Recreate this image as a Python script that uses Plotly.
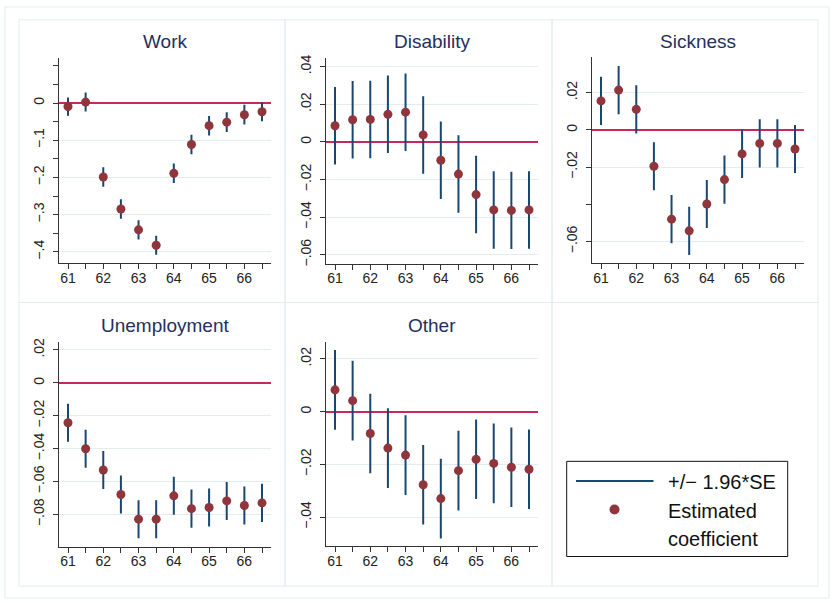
import plotly.graph_objects as go

W, H = 833, 603

# ---- data: coefficients by age (half-year steps) ----
ages = [61, 61.5, 62, 62.5, 63, 63.5, 64, 64.5, 65, 65.5, 66, 66.5]

coef_work = [-0.0095, 0.0025, -0.199, -0.285, -0.341, -0.3825, -0.189, -0.1115, -0.061, -0.0515, -0.0315, -0.0235]
se_work = [0.0125, 0.013, 0.0133, 0.0133, 0.0133, 0.013, 0.0133, 0.0135, 0.0133, 0.0135, 0.0135, 0.013]

coef_disab = [0.0086, 0.01175, 0.01195, 0.01465, 0.0158, 0.0037, -0.00975, -0.0171, -0.028, -0.03615, -0.0364, -0.03615]
se_disab = [0.0105, 0.0105, 0.0105, 0.0105, 0.0105, 0.0105, 0.0105, 0.0105, 0.0105, 0.0105, 0.0105, 0.0105]

coef_sick = [0.0156, 0.0214, 0.01105, -0.01955, -0.04795, -0.05425, -0.0398, -0.0267, -0.0129, -0.00725, -0.00725, -0.01025]
se_sick = [0.0066, 0.0066, 0.0066, 0.0066, 0.0066, 0.0066, 0.0066, 0.0066, 0.0066, 0.0066, 0.0066, 0.0066]

coef_unemp = [-0.0243, -0.0401, -0.053, -0.0679, -0.0829, -0.0829, -0.0687, -0.0765, -0.0758, -0.0718, -0.0746, -0.073]
se_unemp = [0.0059, 0.0059, 0.0059, 0.0059, 0.0059, 0.0059, 0.0059, 0.0059, 0.0059, 0.0059, 0.0059, 0.0059]

coef_other = [0.00825, 0.00415, -0.0083, -0.01385, -0.0165, -0.02775, -0.033, -0.0224, -0.0181, -0.01965, -0.0211, -0.02185]
se_other = [0.0077, 0.0077, 0.0077, 0.0077, 0.0077, 0.0077, 0.0077, 0.0077, 0.0077, 0.0077, 0.0077, 0.0077]

titles = ["Work", "Disability", "Sickness", "Unemployment", "Other"]

x_tickvals = ages
x_ticktext = ["61", "", "62", "", "63", "", "64", "", "65", "", "66", ""]

# y ticks per panel: labelled (with grid) and unlabelled (minor, no grid)
ytick_work = [0, -0.1, -0.2, -0.3, -0.4]
ytext_work = ["0", "\u2212.1", "\u2212.2", "\u2212.3", "\u2212.4"]
yminor_work = [0.1, 0.05, -0.05, -0.15, -0.25, -0.35]

ytick_disab = [0.04, 0.02, 0, -0.02, -0.04, -0.06]
ytext_disab = [".04", ".02", "0", "\u2212.02", "\u2212.04", "\u2212.06"]

ytick_sick = [0.02, 0, -0.02, -0.06]
ytext_sick = [".02", "0", "\u2212.02", "\u2212.06"]
yminor_sick = [-0.04]

ytick_unemp = [0.02, 0, -0.02, -0.04, -0.06, -0.08]
ytext_unemp = [".02", "0", "\u2212.02", "\u2212.04", "\u2212.06", "\u2212.08"]

ytick_other = [0.02, 0, -0.02, -0.04]
ytext_other = [".02", "0", "\u2212.02", "\u2212.04"]

NAVY = "#1a476f"
MAROON = "#90353b"
ZERO = "#c8285a"
GRID = "#e4ecee"
FRAME = "#e4ecee"
TITLE = "#24305e"
FONT = "Liberation Sans, Arial, sans-serif"


def px_x(v):
    return v / W


def px_y(v):
    return 1 - v / H


# plot areas in pixels: (left, right, top, bottom), y range
panels = [
    dict(coef=coef_work, se=se_work, box=(59, 271, 55, 262), yr=[-0.43, 0.12],
         tv=ytick_work, tt=ytext_work, minor=yminor_work),
    dict(coef=coef_disab, se=se_disab, box=(326, 538, 55, 262.7), yr=[-0.0647, 0.0444],
         tv=ytick_disab, tt=ytext_disab, minor=[]),
    dict(coef=coef_sick, se=se_sick, box=(592, 804, 54, 262), yr=[-0.0715, 0.039],
         tv=ytick_sick, tt=ytext_sick, minor=yminor_sick),
    dict(coef=coef_unemp, se=se_unemp, box=(59, 271, 341.7, 549), yr=[-0.0996, 0.025],
         tv=ytick_unemp, tt=ytext_unemp, minor=[]),
    dict(coef=coef_other, se=se_other, box=(326, 538, 341.7, 548.7), yr=[-0.0511, 0.0265],
         tv=ytick_other, tt=ytext_other, minor=[]),
]

fig = go.Figure()
layout_axes = {}
annotations = []
shapes = []

for i, p in enumerate(panels):
    n = "" if i == 0 else str(i + 1)
    l, r, t, b = p["box"]
    ci = [1.96 * s for s in p["se"]]
    fig.add_trace(go.Scatter(
        x=ages, y=p["coef"], xaxis="x" + n, yaxis="y" + n,
        mode="markers", name="Estimated coefficient", showlegend=False,
        marker=dict(color=MAROON, size=9),
        error_y=dict(type="data", array=ci, visible=True, width=0, thickness=2, color=NAVY),
    ))
    layout_axes["xaxis" + n] = dict(
        domain=[px_x(l), px_x(r)], anchor="y" + n, range=[60.745, 66.755],
        tickmode="array", tickvals=x_tickvals, ticktext=x_ticktext,
        ticks="outside", ticklen=5, tickcolor="#333", showgrid=False, zeroline=False,
        showline=True, linecolor="#333", linewidth=1, ticklabelstandoff=-3,
        tickfont=dict(size=14, color="#222", family=FONT),
    )
    layout_axes["yaxis" + n] = dict(
        domain=[px_y(b), px_y(t)], anchor="x" + n, range=p["yr"],
        tickmode="array", tickvals=p["tv"], ticktext=p["tt"], tickangle=-90,
        ticks="outside", ticklen=5, tickcolor="#333", showgrid=True, gridcolor=GRID, gridwidth=1,
        zeroline=True, zerolinecolor=ZERO, zerolinewidth=1.5,
        showline=True, linecolor="#333", linewidth=1, ticklabelstandoff=3,
        tickfont=dict(size=14, color="#222", family=FONT),
        minor=dict(tickmode="array", tickvals=p["minor"], ticks="outside", ticklen=5,
                   tickcolor="#333", showgrid=False),
    )
    ty = 37.5 if i < 3 else 324.8
    annotations.append(dict(
        x=px_x((l + r) / 2), y=px_y(ty), xref="paper", yref="paper",
        text=titles[i], showarrow=False, xanchor="center", yanchor="middle",
        font=dict(size=19, color=TITLE, family=FONT),
    ))

# panel frames (graph regions) and outer frame
cols = [19, 285, 552, 818]
rows = [16, 302, 589]
for ri in range(2):
    for cj in range(3):
        shapes.append(dict(type="rect", xref="paper", yref="paper",
                           x0=px_x(cols[cj]), x1=px_x(cols[cj + 1]),
                           y0=px_y(rows[ri + 1]), y1=px_y(rows[ri]),
                           line=dict(color=FRAME, width=1), layer="below"))
shapes.append(dict(type="rect", xref="paper", yref="paper",
                   x0=px_x(5), x1=px_x(829), y0=px_y(601), y1=px_y(3),
                   line=dict(color=FRAME, width=1), layer="below"))

# legend box drawn by hand (Stata-style sample lengths)
shapes.append(dict(type="rect", xref="paper", yref="paper",
                   x0=px_x(566.7), x1=px_x(787.7), y0=px_y(559), y1=px_y(462.7),
                   line=dict(color="#111", width=1), fillcolor="white"))
shapes.append(dict(type="line", xref="paper", yref="paper",
                   x0=px_x(576), x1=px_x(653.5), y0=px_y(482.5), y1=px_y(482.5),
                   line=dict(color=NAVY, width=2)))
shapes.append(dict(type="circle", xref="paper", yref="paper",
                   x0=px_x(609.5), x1=px_x(619.5), y0=px_y(516.5), y1=px_y(506.5),
                   line=dict(color=MAROON, width=0), fillcolor=MAROON))
for txt, yy in [("+/\u2212 1.96*SE", 483.3), ("Estimated", 512.5), ("coefficient", 541)]:
    annotations.append(dict(
        x=px_x(666), y=px_y(yy), xref="paper", yref="paper", text=txt,
        showarrow=False, xanchor="left", yanchor="middle",
        font=dict(size=20, color="#111", family=FONT),
    ))

fig.update_layout(
    width=W, height=H,
    margin=dict(l=0, r=0, t=0, b=0),
    paper_bgcolor="white", plot_bgcolor="white",
    showlegend=False,
    annotations=annotations, shapes=shapes,
    font=dict(family=FONT),
    **layout_axes,
)

fig.write_html("out.html", config={"displayModeBar": False},
               post_script="document.body.style.margin='0px';")
